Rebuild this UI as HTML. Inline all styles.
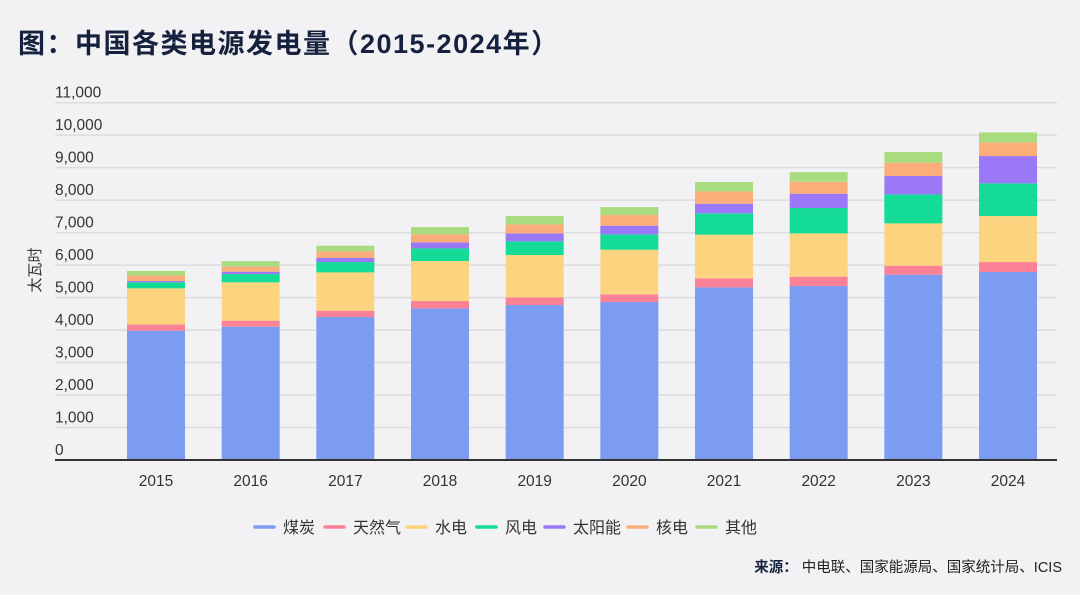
<!DOCTYPE html>
<html><head><meta charset="utf-8">
<style>
body{margin:0;background:#f2f2f4;}
#wrap{position:relative;width:1080px;height:595px;background:#f2f2f4;font-family:"Liberation Sans","Noto Sans CJK SC",sans-serif;overflow:hidden;}
#title{position:absolute;left:18px;top:22px;font-size:27px;font-weight:bold;color:#16213e;font-family:"Liberation Sans","Noto Sans CJK SC",sans-serif;letter-spacing:1.5px;}
#source{position:absolute;right:18px;top:556px;font-size:14.5px;color:#222;}
svg text{font-family:"Liberation Sans","Noto Sans CJK SC",sans-serif;}
</style></head>
<body>
<div id="wrap">
<div id="title">图：中国各类电源发电量（2015-2024年）</div>
<svg id="chart" width="1080" height="595" style="position:absolute;left:0;top:0"></svg>
<div id="source"><b style="color:#16213e">来源：</b> 中电联、国家能源局、国家统计局、ICIS</div>
</div>
<script>
const years = ["2015","2016","2017","2018","2019","2020","2021","2022","2023","2024"];
const seriesNames = ["煤炭","天然气","水电","风电","太阳能","核电","其他"];
const seriesColors = ["#7b9cf0","#fb8296","#fcd37f","#14dc96","#9b78f7","#fbae79","#a9dc7f"];
const coal    = [3980,4104,4402,4668,4771,4863,5315,5356,5705,5787];
const gas     = [195,185,195,226,236,236,277,287,277,307];
const hydro   = [1110,1180,1179,1231,1303,1375,1344,1334,1303,1416];
const wind    = [185,256,318,390,421,472,656,780,892,1006];
const solar   = [40,72,124,185,246,267,298,441,565,841];
const nuclear = [170,154,205,246,277,328,380,369,410,421];
const other   = [140,174,174,226,256,246,287,298,328,308];
const yTicks  = [0,1000,2000,3000,4000,5000,6000,7000,8000,9000,10000,11000];
const yTickLabels = ["0","1,000","2,000","3,000","4,000","5,000","6,000","7,000","8,000","9,000","10,000","11,000"];

const series = [coal,gas,hydro,wind,solar,nuclear,other];
const NS="http://www.w3.org/2000/svg";
const svg=document.getElementById('chart');
const X0=55,X1=1057,Y0=460,YTOP=102.7,YMAX=11000;
const y=v=>Y0-(v/YMAX)*(Y0-YTOP);
const xc=i=>156+i*94.67;
const BW=58;
function mk(t,a){const e=document.createElementNS(NS,t);for(const k in a)e.setAttribute(k,a[k]);svg.appendChild(e);return e;}

yTicks.forEach((v,i)=>{
  if(v>0){const g=mk('line',{x1:X0,x2:X1,y1:y(v),y2:y(v),stroke:'#dcdce0','stroke-width':1.5});
  
  }
  const t=mk('text',{x:X0,y:y(v)-5,'font-size':15.5,fill:'#333'});
  t.textContent=yTickLabels[i];
  
  
});
const yt=mk('text',{x:0,y:0,'font-size':15,fill:'#333','text-anchor':'middle',transform:'translate(40,270) rotate(-90)'});
yt.textContent='太瓦时';



years.forEach((yr,i)=>{
  let base=0;
  series.forEach((s,k)=>{
    const r=mk('rect',{x:xc(i)-BW/2,y:y(base+s[i]),width:BW,height:y(base)-y(base+s[i]),fill:seriesColors[k]});
    
    
    base+=s[i];
  });
  const t=mk('text',{x:xc(i),y:486,'font-size':15.5,fill:'#333','text-anchor':'middle'});
  t.textContent=yr;
  
  
});
const ax=mk('line',{x1:X0,x2:X1,y1:Y0,y2:Y0,stroke:'#333','stroke-width':2});



const legX=[255,325,407,477,545,628,697];
seriesNames.forEach((n,k)=>{
  const l=mk('line',{x1:legX[k],x2:legX[k]+19,y1:527,y2:527,stroke:seriesColors[k],'stroke-width':3.5,'stroke-linecap':'round'});
  
  
  const t=mk('text',{x:legX[k]+28,y:533,'font-size':16,fill:'#333'});
  t.textContent=n;
  
  
});
</script>
</body></html>
